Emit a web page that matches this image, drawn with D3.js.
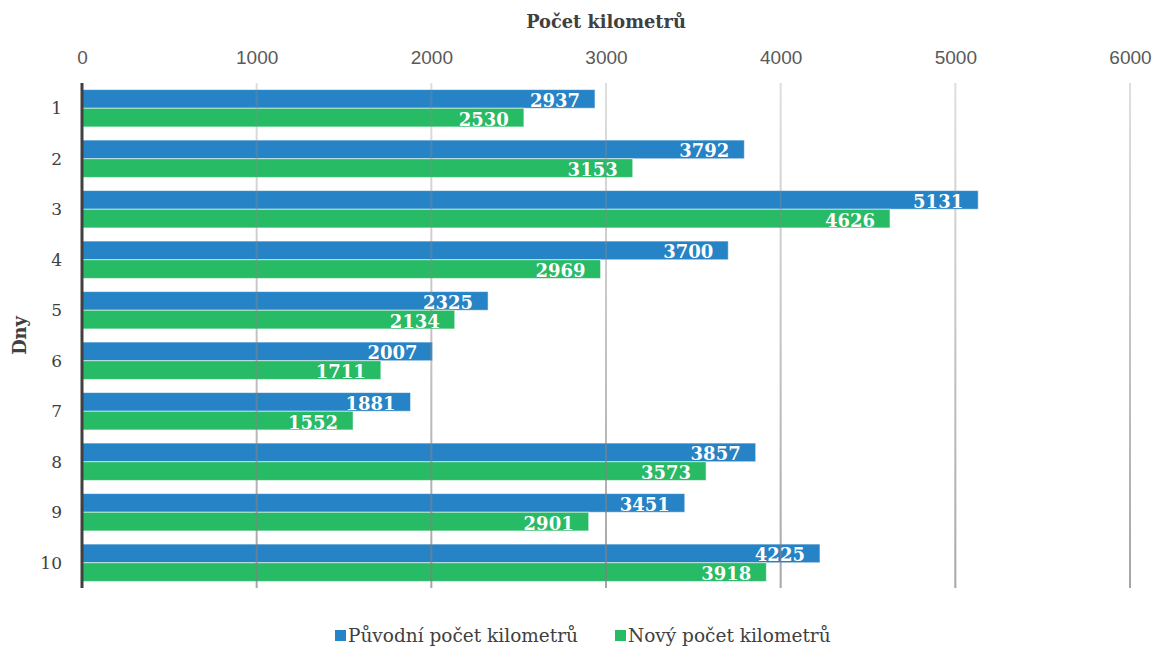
<!DOCTYPE html>
<html>
<head>
<meta charset="utf-8">
<script src="https://cdn.jsdelivr.net/npm/d3@7"></script>
<style>
  html, body { margin: 0; padding: 0; background: #fff; }
  svg { display: block; }
</style>
</head>
<body>
<svg id="chart" width="1154" height="647"></svg>
<script>
// Day numbers and the two series of kilometres per day
const days = ["1", "2", "3", "4", "5", "6", "7", "8", "9", "10"];
const originalKm = [2937, 3792, 5131, 3700, 2325, 2007, 1881, 3857, 3451, 4225];
const newKm = [2530, 3153, 4626, 2969, 2134, 1711, 1552, 3573, 2901, 3918];
const seriesNames = ["Původní počet kilometrů", "Nový počet kilometrů"];
const seriesColors = ["#2683C6", "#27BB66"];
const xTicks = [0, 1000, 2000, 3000, 4000, 5000, 6000];

const svg = d3.select("#chart");
const plotLeft = 82, plotRight = 1130, plotTop = 83, plotBottom = 588;

const x = d3.scaleLinear().domain([0, 6000]).range([plotLeft, plotRight]);
const y = d3.scaleBand().domain(days).range([plotTop, plotBottom]).paddingInner(0.26).paddingOuter(0.13);
const ySub = d3.scaleBand().domain([0, 1]).range([0, y.bandwidth()]);

const serif = "'DejaVu Serif', 'Liberation Serif', serif";
const sans = "'Liberation Sans', 'Noto Sans', sans-serif";

// gradient for the vertical gridlines (lighter on top, darker at the bottom)
const defs = svg.append("defs");
const grad = defs.append("linearGradient")
  .attr("id", "gridGrad").attr("gradientUnits", "userSpaceOnUse")
  .attr("x1", 0).attr("y1", plotTop).attr("x2", 0).attr("y2", plotBottom);
grad.append("stop").attr("offset", "0%").attr("stop-color", "#8c8c8c").attr("stop-opacity", 0.28);
grad.append("stop").attr("offset", "100%").attr("stop-color", "#7f7f7f").attr("stop-opacity", 0.7);

// bars
const series = [originalKm, newKm];
const barG = svg.append("g");
days.forEach((d, i) => {
  series.forEach((vals, s) => {
    barG.append("rect")
      .attr("x", x(0))
      .attr("y", y(d) + ySub(s))
      .attr("width", x(vals[i]) - x(0))
      .attr("height", ySub.bandwidth())
      .attr("fill", seriesColors[s])
      .attr("stroke", "rgba(255,255,255,0.55)")
      .attr("stroke-width", 1);
  });
});

// gridlines drawn over the bars
const gridG = svg.append("g");
gridG.selectAll("line").data(xTicks.filter(t => t > 0)).join("line")
  .attr("x1", d => x(d)).attr("x2", d => x(d))
  .attr("y1", plotTop).attr("y2", plotBottom)
  .attr("stroke", "url(#gridGrad)").attr("stroke-width", 2);

// top axis tick labels
const xAxis = d3.axisTop(x).tickValues(xTicks).tickSize(0).tickPadding(0).tickFormat(d3.format("d"));
const xg = svg.append("g").attr("transform", `translate(0,${plotTop - 19})`).call(xAxis);
xg.select(".domain").remove();
xg.selectAll("text")
  .attr("font-family", sans).attr("font-size", 19).attr("fill", "#595959");

// left axis: category labels
const yAxis = d3.axisLeft(y).tickSize(0).tickPadding(20);
const yg = svg.append("g").attr("transform", `translate(${plotLeft},0)`).call(yAxis);
yg.select(".domain").remove();
yg.selectAll("text")
  .attr("font-family", serif).attr("font-size", 17).attr("fill", "#404040")
  .attr("dy", "0.34em");

// value axis baseline
svg.append("line")
  .attr("x1", x(0)).attr("x2", x(0)).attr("y1", plotTop).attr("y2", plotBottom)
  .attr("stroke", "#404040").attr("stroke-width", 3);

// data labels inside the bar ends
const labelG = svg.append("g");
days.forEach((d, i) => {
  series.forEach((vals, s) => {
    labelG.append("text")
      .attr("x", x(vals[i]) - 15)
      .attr("y", y(d) + ySub(s) + ySub.bandwidth() / 2)
      .attr("dy", "0.44em")
      .attr("text-anchor", "end")
      .attr("font-family", serif).attr("font-weight", "bold").attr("font-size", 18)
      .attr("fill", "#fff")
      .attr("stroke", "rgba(0,0,0,0.12)").attr("stroke-width", 0.6)
      .attr("paint-order", "stroke")
      .text(vals[i]);
  });
});

// axis titles
svg.append("text")
  .attr("x", (plotLeft + plotRight) / 2).attr("y", 28)
  .attr("text-anchor", "middle")
  .attr("font-family", serif).attr("font-weight", "bold").attr("font-size", 17.8)
  .attr("fill", "#404040")
  .text("Počet kilometrů");

svg.append("text")
  .attr("transform", `translate(26,${(plotTop + plotBottom) / 2}) rotate(-90)`)
  .attr("text-anchor", "middle")
  .attr("font-family", serif).attr("font-weight", "bold").attr("font-size", 17.8)
  .attr("fill", "#404040")
  .text("Dny");

// legend
const legend = svg.append("g");
const legendX = [335, 615];
seriesNames.forEach((name, s) => {
  const g = legend.append("g").attr("transform", `translate(${legendX[s]},636)`);
  g.append("rect").attr("x", 0).attr("y", -6).attr("width", 11).attr("height", 11)
    .attr("fill", seriesColors[s]);
  g.append("text").attr("x", 13).attr("y", 0).attr("dy", "0.35em")
    .attr("font-family", serif).attr("font-size", 18.5).attr("fill", "#404040")
    .text(name);
});
</script>
</body>
</html>
